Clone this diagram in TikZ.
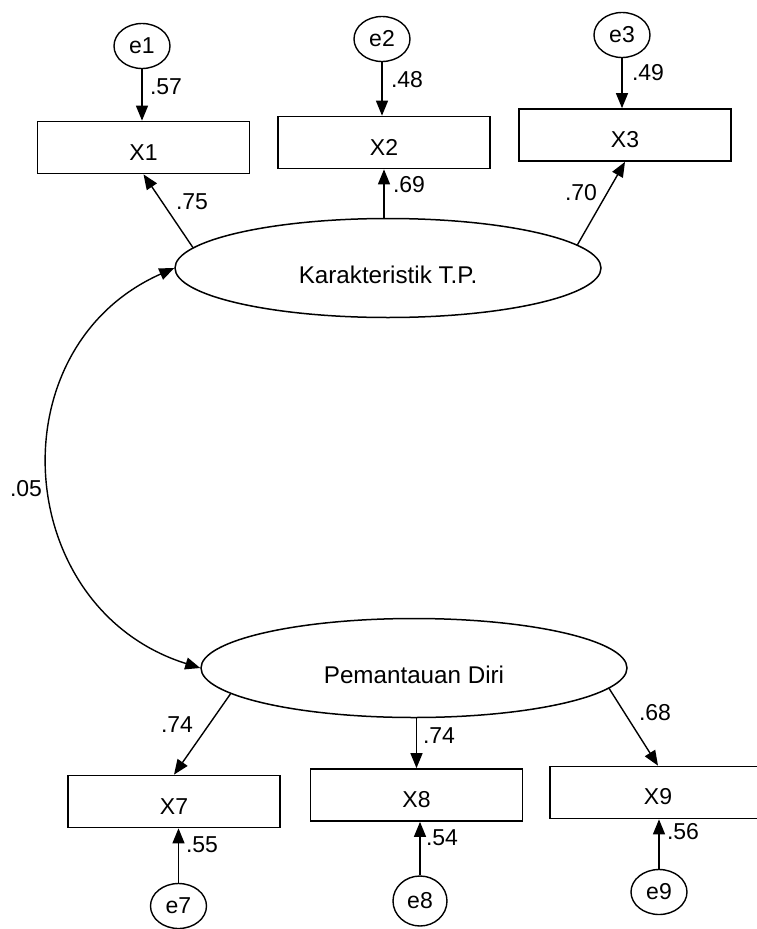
\documentclass[tikz,border=0pt]{standalone}
\usepackage{fontspec}
\setmainfont{Liberation Sans}
\usetikzlibrary{shapes.geometric,arrows.meta,calc}
\begin{document}
\begin{tikzpicture}[x=1pt,y=-1pt,
  every node/.style={font=\fontsize{23}{27}\selectfont},
  obs/.style={draw,line width=1.7pt,rectangle,minimum width=212pt,minimum height=52pt,inner sep=0pt,text height=25pt},
  lat/.style={draw,line width=1.5pt,ellipse,minimum width=426pt,minimum height=99pt,inner sep=0pt,text height=31pt,font=\fontsize{24.2}{28}\selectfont},
  err/.style={draw,line width=1.4pt,ellipse,minimum width=56pt,minimum height=45pt,inner sep=0pt},
  load/.style={line width=1.4pt,-{Triangle[length=15pt,width=12pt]}},
  cov/.style={line width=1.4pt,{Triangle[length=15pt,width=12pt]}-{Triangle[length=15pt,width=12pt]}},
  lbl/.style={inner sep=0pt}]
\useasboundingbox (0,0) rectangle (757,929);
\clip (0,0) rectangle (757,929);

% latent variables
\node[lat] (K) at (388,268) {Karakteristik T.P.};
\node[lat] (P) at (414,668) {Pemantauan Diri};

% indicators of the first factor
\node[obs] (X1) at (143.5,147.5) {X1};
\node[obs] (X2) at (384,142.5) {X2};
\node[obs] (X3) at (625,135) {X3};

% indicators of the second factor
\node[obs] (X7) at (174,801.5) {X7};
\node[obs] (X8) at (416.5,795) {X8};
\node[obs,minimum width=216pt] (X9) at (658,792.5) {X9};

% error terms
\node[err] (e1) at (142,46) {e1};
\node[err] (e2) at (382,39) {e2};
\node[err] (e3) at (622,35) {e3};
\node[err] (e7) at (178.5,906) {e7};
\node[err,minimum width=54pt,minimum height=50pt] (e8) at (420,901) {e8};
\node[err] (e9) at (659,892) {e9};

% error paths
\draw[load] (e1.south) -- (e1.south |- X1.north);
\draw[load] (e2.south) -- (e2.south |- X2.north);
\draw[load] (e3.south) -- (e3.south |- X3.north);
\draw[load] (e7.north) -- (e7.north |- X7.south);
\draw[load] (e8.north) -- (e8.north |- X8.south);
\draw[load] (e9.north) -- (e9.north |- X9.south);

% factor loadings
\draw[load] (K.174.7) -- (X1.south);
\draw[load] (K.north -| X2.south) -- (X2.south);
\draw[load] (K.7.7) -- (X3.south);
\draw[load] (P.188.5) -- (X7.north);
\draw[load] (P.south -| X8.north) -- (X8.north);
\draw[load] (P.354) -- (X9.north);

% factor covariance
\draw[cov] (K.west) .. controls (-6,348) and (12,609) .. (P.west);

% coefficients
\node[lbl] (l1) at (166,86.5) {.57};
\node[lbl] (l2) at (407,80) {.48};
\node[lbl] (l3) at (648,73) {.49};
\node[lbl] (l4) at (192,202) {.75};
\node[lbl] (l5) at (409,185) {.69};
\node[lbl] (l6) at (581,193) {.70};
\node[lbl] (l7) at (177,725) {.74};
\node[lbl] (l8) at (439,736) {.74};
\node[lbl] (l9) at (655,713) {.68};
\node[lbl] (l10) at (202,845) {.55};
\node[lbl] (l11) at (442,838) {.54};
\node[lbl] (l12) at (683,832) {.56};
\node[lbl] (l13) at (26,489) {.05};
\end{tikzpicture}
\end{document}
